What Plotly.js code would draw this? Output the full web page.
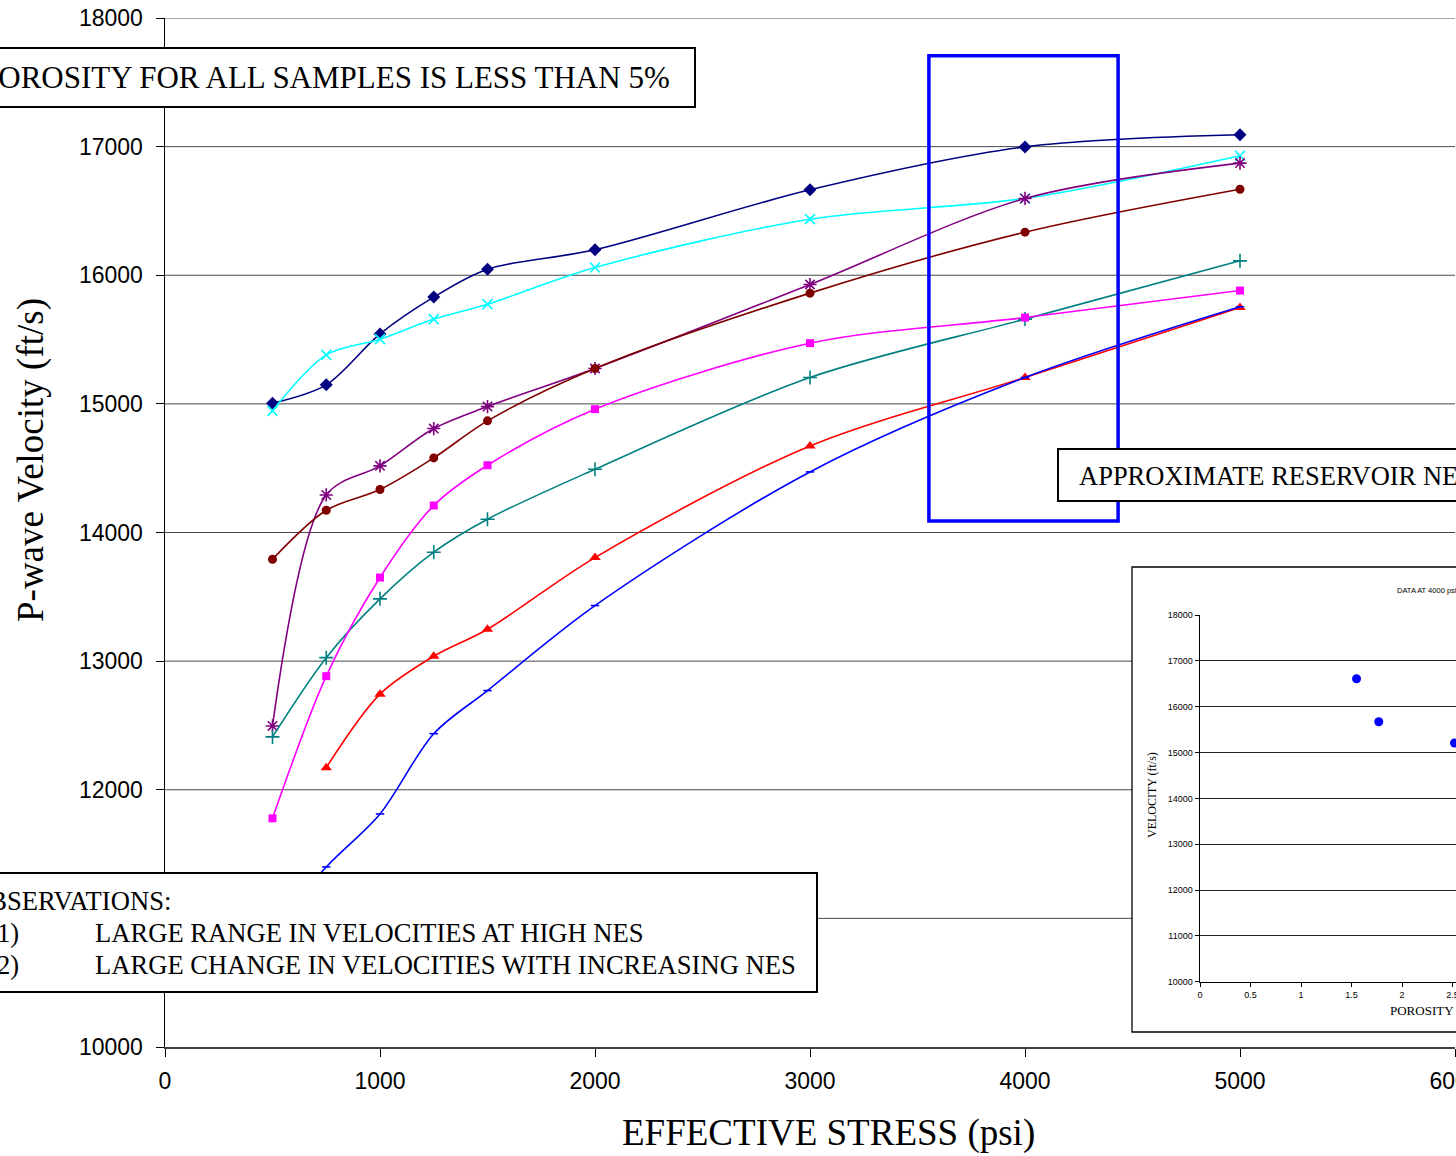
<!DOCTYPE html>
<html><head><meta charset="utf-8">
<script src="https://cdn.plot.ly/plotly-3.0.1.min.js"></script>
<style>
html,body{margin:0;padding:0;overflow:hidden;background:#fff;width:1456px;height:1156px}
#chart{position:absolute;left:0;top:0;width:1800px;height:1156px}
</style>
</head><body><div id="chart"></div>
<script>
// ---- data ----
const stress = [500, 750, 1000, 1250, 1500, 2000, 3000, 4000, 5000];
const velNavy    = [15005, 15148, 15544, 15830, 16047, 16198, 16664, 16998, 17092];
const velCyan    = [14946, 15381, 15503, 15659, 15775, 16060, 16436, 16597, 16929];
const velPurple  = [12496, 14292, 14518, 14808, 14979, 15275, 15928, 16597, 16872];
const velMaroon  = [13792, 14173, 14334, 14580, 14868, 15275, 15861, 16335, 16669];
const velTeal    = [12411, 13027, 13484, 13847, 14103, 14492, 15205, 15659, 16112];
const velMagenta = [11778, 12883, 13650, 14210, 14523, 14959, 15472, 15671, 15881];
const velRed     = [null, 12172, 12743, 13038, 13248, 13805, 14673, 15205, 15749];
const velBlue    = [10900, 11400, 11812, 12436, 12771, 13432, 14471, 15205, 15755];

const porosity4000 = [1.55, 1.77, 2.52];
const velocity4000 = [16610, 15672, 15207];

const mainYTicks = [10000, 11000, 12000, 13000, 14000, 15000, 16000, 17000, 18000];
// the 11000 label sits under the observations box in the reference
const mainYTickText = ['10000', '', '12000', '13000', '14000', '15000', '16000', '17000', '18000'];
const reservoirNES = [3553, 4433];   // approximate reservoir NES window (psi)
const reservoirVel = [14090, 17706];

// ---- geometry helpers ----
const W = 1800, H = 1156, L = 165, T = 18, B = 109, R = 0;
const PW = W - L - R, PH = H - T - B;
const fx = px => (px - L) / PW;
const fy = py => (H - B - py) / PH;

const serif = 'Liberation Serif, Times New Roman, serif';
const sans = 'Liberation Sans, Arial, sans-serif';

function series(y, color, symbol, size, open) {
  const m = {color: color, symbol: symbol, size: size};
  if (open) m.line = {color: color, width: 1.6};
  return {
    type: 'scatter', mode: 'lines+markers', x: stress, y: y,
    xaxis: 'x', yaxis: 'y',
    line: {color: color, width: 1.6, shape: 'spline', smoothing: 0.9},
    marker: m, showlegend: false, hoverinfo: 'x+y'
  };
}

const traces = [
  series(velNavy, '#000080', 'diamond', 10, false),
  series(velCyan, '#00FFFF', 'x-thin-open', 10, true),
  series(velPurple, '#800080', 'asterisk-open', 11, true),
  series(velMaroon, '#800000', 'circle', 9, false),
  series(velTeal, '#008080', 'cross-thin-open', 10, true),
  series(velMagenta, '#FF00FF', 'square', 8, false),
  series(velRed, '#FF0000', 'triangle-up', 10, false),
  series(velBlue, '#0000FF', 'line-ew-open', 6, true),
  {
    type: 'scatter', mode: 'markers', x: porosity4000, y: velocity4000,
    xaxis: 'x2', yaxis: 'y2', showlegend: false,
    marker: {color: '#0000FF', symbol: 'circle', size: 9}
  }
];

// gridlines of the main chart as shapes (the inset hides part of the lower ones)
const shapes = [];
mainYTicks.slice(1).forEach(v => {
  shapes.push({
    type: 'line', layer: 'below', xref: 'paper', yref: 'y',
    x0: 0, x1: v <= 13000 ? fx(1132) : fx(1455), y0: v, y1: v,
    line: {color: v === 18000 ? '#8a8a8a' : '#4a4a4a', width: v === 18000 ? 1.5 : 1}
  });
});
// inset frame
shapes.push({type: 'rect', layer: 'below', xref: 'paper', yref: 'paper',
  x0: fx(1132), x1: fx(1790), y0: fy(1032), y1: fy(567),
  line: {color: '#000', width: 1.3}, fillcolor: 'rgba(0,0,0,0)'});
// reservoir window
shapes.push({type: 'rect', layer: 'above', xref: 'x', yref: 'y',
  x0: reservoirNES[0], x1: reservoirNES[1], y0: reservoirVel[0], y1: reservoirVel[1],
  line: {color: '#0000FF', width: 3.5}, fillcolor: 'rgba(0,0,0,0)'});
// text boxes
function box(x0, x1, y0, y1) {
  return {type: 'rect', layer: 'above', xref: 'paper', yref: 'paper',
    x0: fx(x0), x1: fx(x1), y0: fy(y1), y1: fy(y0),
    line: {color: '#000', width: 2}, fillcolor: '#fff'};
}
shapes.push(box(-20, 695, 48, 107));
shapes.push(box(-20, 817, 873, 992));
shapes.push(box(1058, 1600, 449, 501));

function txt(text, px, py, size, anchor, font, extra) {
  return Object.assign({text: text, xref: 'paper', yref: 'paper', x: fx(px), y: fy(py),
    xanchor: anchor, yanchor: 'middle', showarrow: false,
    font: {family: font || serif, size: size, color: '#000'}}, extra || {});
}

const annotations = [
  txt('POROSITY FOR ALL SAMPLES IS LESS THAN 5%', 672, 78, 31, 'right'),
  txt('OBSERVATIONS:', 173, 901, 26.6, 'right'),
  txt('1)', 21, 933, 26.6, 'right'),
  txt('LARGE RANGE IN VELOCITIES AT HIGH NES', 93, 933, 26.6, 'left'),
  txt('2)', 21, 965, 26.6, 'right'),
  txt('LARGE CHANGE IN VELOCITIES WITH INCREASING NES', 93, 965, 26.6, 'left'),
  txt('APPROXIMATE RESERVOIR NES', 1077, 476, 26.5, 'left'),
  txt('EFFECTIVE STRESS (psi)', 828, 1133, 37, 'center'),
  txt('P-wave Velocity (ft/s)', 31, 460, 37, 'center', serif, {textangle: -90}),
  txt('DATA AT 4000 psi', 1395, 590, 7.5, 'left', sans),
  txt('POROSITY (%)', 1388, 1010, 13, 'left'),
  txt('VELOCITY (ft/s)', 1152, 795, 12, 'center', serif, {textangle: -90})
];

const layout = {
  width: W, height: H,
  margin: {l: L, r: R, t: T, b: B, pad: 0},
  paper_bgcolor: '#fff', plot_bgcolor: 'rgba(0,0,0,0)',
  showlegend: false,
  xaxis: {
    domain: [0, fx(1455)], range: [0, 6000], dtick: 1000, tick0: 0, tickformat: 'd',
    showgrid: false, zeroline: false, showline: true, linecolor: '#404040', linewidth: 1.5,
    ticks: 'outside', ticklen: 8, tickcolor: '#000', tickwidth: 1,
    tickfont: {family: sans, size: 23, color: '#000'}, anchor: 'y', ticklabelstandoff: 5
  },
  yaxis: {
    domain: [0, 1], range: [10000, 18000], tickvals: mainYTicks, ticktext: mainYTickText,
    showgrid: false, zeroline: false, showline: true, linecolor: '#000', linewidth: 1.5,
    ticks: 'outside', ticklen: 8, tickcolor: '#000', tickwidth: 1,
    tickfont: {family: sans, size: 23, color: '#000'}, anchor: 'x', ticklabelstandoff: 8
  },
  xaxis2: {
    domain: [fx(1200), fx(1705)], range: [0, 5], dtick: 0.5, tick0: 0,
    showgrid: false, zeroline: false, showline: true, linecolor: '#000', linewidth: 1.5,
    ticks: 'outside', ticklen: 4, tickcolor: '#000',
    tickfont: {family: sans, size: 9, color: '#000'}, anchor: 'y2'
  },
  yaxis2: {
    domain: [fy(981.7), fy(615)], range: [10000, 18000], dtick: 1000, tick0: 10000, tickformat: 'd',
    showgrid: true, gridcolor: '#222', gridwidth: 1, zeroline: false,
    showline: true, linecolor: '#000', linewidth: 1.5,
    ticks: 'outside', ticklen: 4, tickcolor: '#000',
    tickfont: {family: sans, size: 9, color: '#000'}, anchor: 'x2'
  },
  shapes: shapes,
  annotations: annotations
};

Plotly.newPlot('chart', traces, layout, {displayModeBar: false, staticPlot: true});
</script></body></html>
